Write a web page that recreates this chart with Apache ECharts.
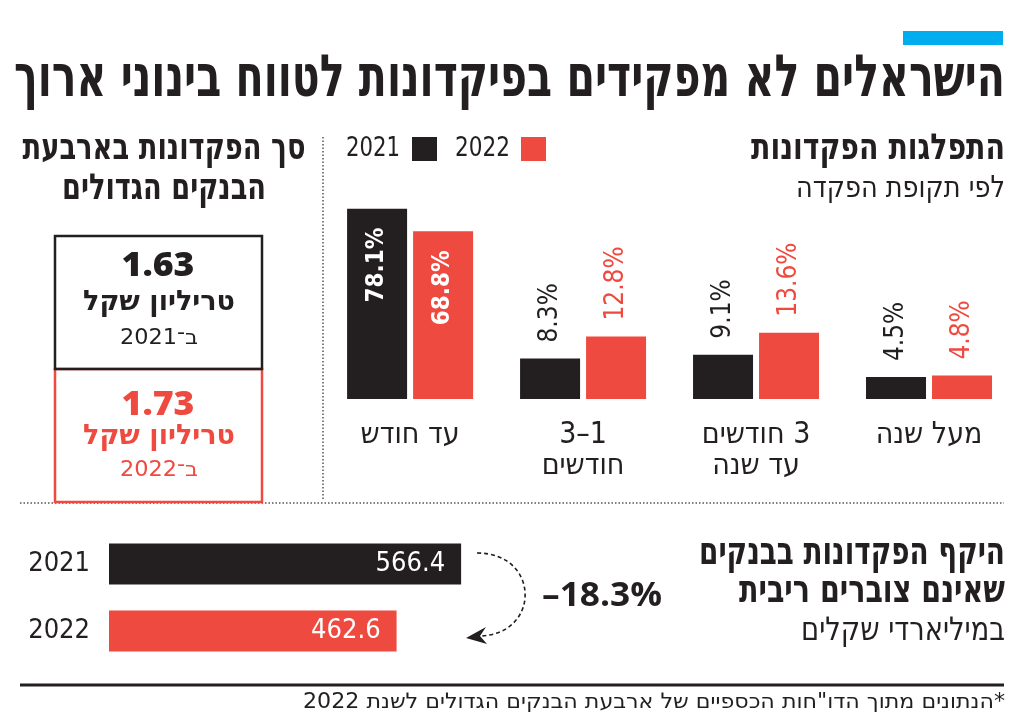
<!DOCTYPE html>
<html>
<head>
<meta charset="utf-8">
<script src="https://cdn.jsdelivr.net/npm/echarts@6/dist/echarts.min.js"></script>
<style>
html,body{margin:0;padding:0;background:#fff;}
#chart{width:1024px;height:725px;direction:rtl;}
</style>
</head>
<body>
<div id="chart" dir="rtl"></div>
<script>
// ---------- DATA ----------
const title = 'הישראלים לא מפקידים בפיקדונות לטווח בינוני ארוך';
const distTitle = 'התפלגות הפקדונות';
const distSubtitle = 'לפי תקופת הפקדה';
const categories = ['עד חודש', '1–3\nחודשים', '3 חודשים\nעד שנה', 'מעל שנה'];
const years = ['2021', '2022'];
const share2021 = [78.1, 8.3, 9.1, 4.5];
const share2022 = [68.8, 12.8, 13.6, 4.8];
const bigScaleGroup = 0; // the first group is drawn on its own (compressed) scale

const totalTitle = ['סך הפקדונות בארבעת', 'הבנקים הגדולים'];
const totals = [1.63, 1.73];
const totalUnit = 'טריליון שקל';

const volTitle = ['היקף הפקדונות בבנקים', 'שאינם צוברים ריבית'];
const volSubtitle = 'במיליארדי שקלים';
const volume = [566.4, 462.6];

const footnote = '*הנתונים מתוך הדו"חות הכספיים של ארבעת הבנקים הגדולים לשנת 2022';

// ---------- STYLE ----------
const BLACK = '#231f20', RED = '#ef4a3f', BLUE = '#00aeef';
const yearColors = [BLACK, RED];
const HEB = "'DejaVu Sans Condensed','DejaVu Sans',sans-serif";
const HEBW = "'DejaVu Sans',sans-serif";
const NUM = "'DejaVu Sans Condensed','DejaVu Sans',sans-serif";
const BNUM = "'Open Sans','DejaVu Sans',sans-serif";

const mctx = document.createElement('canvas').getContext('2d');
function measure(text, font){ mctx.font = font; return mctx.measureText(text).width; }
function T(text, x, y, size, weight, color, align, targetW, fam){
  const font = weight + ' ' + size + 'px ' + (fam || HEBW);
  const sx = targetW ? targetW / measure(text, font) : 1;
  return {type:'text', x:x, y:y, scaleX:sx, z:20,
    style:{text:text, font:font, fill:color, align:align, verticalAlign:'middle'}};
}

const chart = echarts.init(document.getElementById('chart'), null, {renderer:'canvas'});

const pct = (volume[1] - volume[0]) / volume[0] * 100;
const pctText = '\u202A' + '–' + Math.abs(pct).toFixed(1) + '%' + '\u202C';

const R = 1005;
const graphics = [
  {type:'rect', shape:{x:903, y:31, width:100, height:14}, style:{fill:BLUE}},
  T(title, R, 81, 58, 'bold', BLACK, 'right', R - 14),
  // left panel
  T(totalTitle[0], 164, 150, 36, 'bold', BLACK, 'center', 283),
  T(totalTitle[1], 164, 190, 36, 'bold', BLACK, 'center', 204),
  {type:'rect', shape:{x:55, y:369, width:207, height:133}, style:{fill:'none', stroke:RED, lineWidth:2.5}, z:5},
  {type:'rect', shape:{x:55, y:236, width:207, height:133}, style:{fill:'none', stroke:BLACK, lineWidth:2.5}, z:6},
  T(totals[0].toFixed(2), 158, 266, 34, '800', BLACK, 'center', 73, BNUM),
  T(totalUnit, 159, 303, 28, 'bold', BLACK, 'center', 152),
  T('ב־' + years[0], 159, 339, 21, 'normal', BLACK, 'center', 78),
  T(totals[1].toFixed(2), 158, 405, 34, '800', RED, 'center', 73, BNUM),
  T(totalUnit, 159, 437, 28, 'bold', RED, 'center', 152),
  T('ב־' + years[1], 159, 471, 21, 'normal', RED, 'center', 78),
  // separators
  {type:'line', shape:{x1:323, y1:137, x2:323, y2:500}, style:{stroke:'#555', lineWidth:1.5, lineDash:[1.5,2]}},
  {type:'line', shape:{x1:20, y1:503, x2:1004, y2:503}, style:{stroke:'#555', lineWidth:1.5, lineDash:[1.5,2]}, z:1},
  // distribution titles
  T(distTitle, R, 150, 36, 'bold', BLACK, 'right', 254),
  T(distSubtitle, R, 189, 30, 'normal', BLACK, 'right', 209),
  // legend
  T(years[0], 400, 149, 27, 'normal', BLACK, 'right', 54, NUM),
  {type:'rect', shape:{x:412, y:137, width:25, height:24}, style:{fill:yearColors[0]}},
  T(years[1], 510, 149, 27, 'normal', BLACK, 'right', 55, NUM),
  {type:'rect', shape:{x:521, y:137, width:25, height:24}, style:{fill:yearColors[1]}},
  // volume titles
  T(volTitle[0], R, 554, 38, 'bold', BLACK, 'right', 306),
  T(volTitle[1], R, 592, 38, 'bold', BLACK, 'right', 266),
  T(volSubtitle, R, 632, 32, 'normal', BLACK, 'right', 204),
  // change arrow
  {type:'bezierCurve', shape:{x1:477, y1:553, cpx1:541, cpy1:553, cpx2:541, cpy2:636, x2:478, y2:636},
    style:{stroke:BLACK, lineWidth:1.6, lineDash:[4,3], fill:'none'}},
  {type:'polygon', shape:{points:[[466,638],[486,627],[480,636],[487,644]]}, style:{fill:BLACK}},
  T(pctText, 542, 596, 34, 'bold', BLACK, 'left', 120, BNUM),
  // bottom rule & footnote
  {type:'line', shape:{x1:20, y1:685, x2:1004, y2:685}, style:{stroke:BLACK, lineWidth:3}},
  T(footnote, R, 703, 21, 'normal', BLACK, 'right', R - 303)
];

const isBig = (i) => i === bigScaleGroup;
const labelBase = {show:true, rotate:90, fontFamily:NUM, fontSize:26,
  formatter: (p) => p.value + '%'};
const insideLabel = Object.assign({}, labelBase, {position:'insideTop', align:'right', verticalAlign:'middle',
  distance:19, color:'#fff', fontWeight:'bold', fontSize:24});

const option = {
  animation:false,
  backgroundColor:'#fff',
  textStyle:{fontFamily:HEB},
  grid:[
    {left:323.6, right:8.5, top:204, bottom:326},
    {left:323.6, right:8.5, top:204, bottom:326},
    {left:109, right:542, top:530.5, bottom:60.5}
  ],
  xAxis:[
    {type:'category', gridIndex:0, data:categories, show:false},
    {type:'category', gridIndex:1, data:categories,
      axisLine:{show:false}, axisTick:{show:false},
      axisLabel:{margin:21, fontSize:30, fontFamily:HEB, color:BLACK, lineHeight:31, verticalAlign:'top', interval:0}},
    {type:'value', gridIndex:2, min:0, max:600, show:false}
  ],
  yAxis:[
    {type:'value', gridIndex:0, min:0, max:80, show:false},
    {type:'value', gridIndex:1, min:0, max:40, show:false},
    {type:'category', gridIndex:2, data:years, inverse:true,
      axisLine:{show:false}, axisTick:{show:false},
      axisLabel:{margin:19, fontSize:27, fontFamily:NUM, color:BLACK}}
  ],
  series:[
    {name:years[0], type:'bar', xAxisIndex:0, yAxisIndex:0, barWidth:60, barGap:'10%',
      data:share2021.map((v,i)=> isBig(i) ? v : '-'), itemStyle:{color:yearColors[0]},
      label:insideLabel},
    {name:years[1], type:'bar', xAxisIndex:0, yAxisIndex:0, barWidth:60, barGap:'10%',
      data:share2022.map((v,i)=> isBig(i) ? v : '-'), itemStyle:{color:yearColors[1]},
      label:insideLabel},
    {name:years[0], type:'bar', xAxisIndex:1, yAxisIndex:1, barWidth:60, barGap:'10%',
      data:share2021.map((v,i)=> isBig(i) ? '-' : v), itemStyle:{color:yearColors[0]},
      label:Object.assign({}, labelBase, {position:'top', align:'left', verticalAlign:'middle', distance:16, color:yearColors[0]})},
    {name:years[1], type:'bar', xAxisIndex:1, yAxisIndex:1, barWidth:60, barGap:'10%',
      data:share2022.map((v,i)=> isBig(i) ? '-' : v), itemStyle:{color:yearColors[1]},
      label:Object.assign({}, labelBase, {position:'top', align:'left', verticalAlign:'middle', distance:16, color:yearColors[1]})},
    {name:'volume', type:'bar', xAxisIndex:2, yAxisIndex:2, barWidth:41,
      data:volume.map((v,i)=>({value:v, itemStyle:{color:yearColors[i]}})),
      label:{show:true, position:'insideRight', distance:16, color:'#fff', fontFamily:NUM, fontSize:27,
        formatter:(p)=> p.value.toFixed(1)}}
  ],
  graphic:graphics
};
chart.setOption(option);
</script>
</body>
</html>
